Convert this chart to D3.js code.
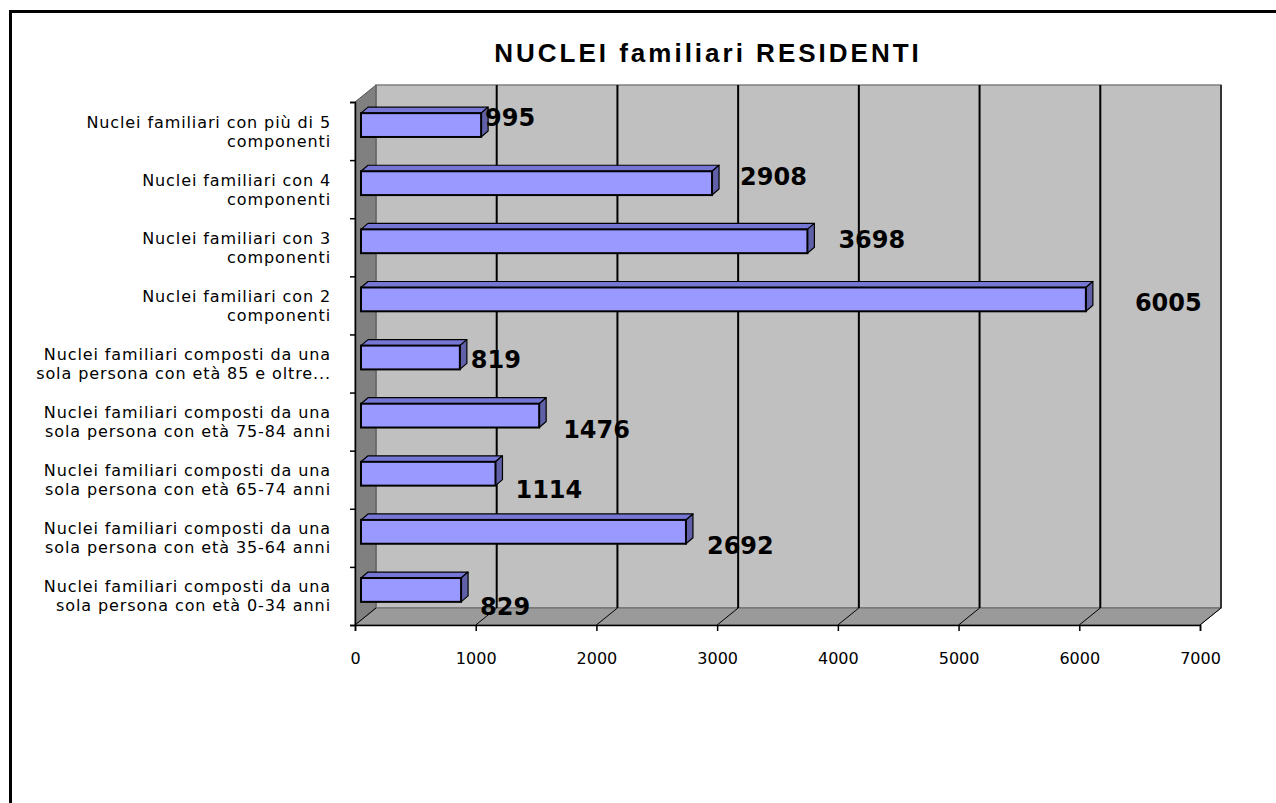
<!DOCTYPE html>
<html lang="it">
<head>
    <meta charset="utf-8">
    <title>NUCLEI familiari RESIDENTI</title>
    <script src="https://d3js.org/d3.v7.min.js"></script>
    <style>
    body{ margin: 0; background: #fff; }
    svg{ display: block; }
    </style>
</head>
<body>
<script>
    // data (top to bottom)
    const categories = [
        "Nuclei familiari con più di 5\ncomponenti",
        "Nuclei familiari con 4\ncomponenti",
        "Nuclei familiari con 3\ncomponenti",
        "Nuclei familiari con 2\ncomponenti",
        "Nuclei familiari composti da una\nsola persona con età 85 e oltre...",
        "Nuclei familiari composti da una\nsola persona con età 75-84 anni",
        "Nuclei familiari composti da una\nsola persona con età 65-74 anni",
        "Nuclei familiari composti da una\nsola persona con età 35-64 anni",
        "Nuclei familiari composti da una\nsola persona con età 0-34 anni"
    ];
    const values = [995, 2908, 3698, 6005, 819, 1476, 1114, 2692, 829];
    const xTicks = [0, 1000, 2000, 3000, 4000, 5000, 6000, 7000];
    const title = "NUCLEI familiari RESIDENTI";

    const W = 1276, H = 803;
    const depth = {dx: 21, dy: 17};      // back wall offset
    const barOff = {dx: 6, dy: 6};       // bars sit a bit inside the depth
    const barDepth = {dx: 7, dy: 6};
    // excel places the value labels a little loosely, these follow the picture
    const labelNudge = [[4,-7],[28,-6],[31,-1],[49,4],[11,2],[24,14],[20,16],[21,14],[19,17]];

    let svg = d3.select("body").append("svg")
        .attr("width", W)
        .attr("height", H);

    // frame (top and left only)
    svg.append("path")
        .attr("d", "M10.5," + H + "V11.5H" + W)
        .attr("fill", "none")
        .attr("stroke", "#000")
        .attr("stroke-width", 3);

    svg.append("text")
        .attr("x", 708)
        .attr("y", 62)
        .attr("text-anchor", "middle")
        .attr("font-family", "Liberation Sans, Arial, sans-serif")
        .attr("font-weight", "bold")
        .attr("font-size", "26px")
        .attr("letter-spacing", "3px")
        .text(title);

    let xScale = d3.scaleLinear()
        .domain([0, 7000])
        .range([355, 1200]);

    let yScale = d3.scaleBand()
        .domain(categories)
        .range([102, 625])
        .paddingInner(0.59)
        .paddingOuter(0.295);

    // linear helper for the category tick marks between bands
    let yEdge = d3.scaleLinear()
        .domain([0, categories.length])
        .range([625, 102]);

    const x0 = xScale(0), x1 = xScale(7000);
    const yTop = 102, yBot = 625;

    // walls and floor
    svg.append("rect")
        .attr("x", x0 + depth.dx)
        .attr("y", yTop - depth.dy)
        .attr("width", x1 - x0)
        .attr("height", yBot - yTop)
        .attr("fill", "#c0c0c0")
        .attr("stroke", "#808080")
        .attr("stroke-width", 1.5);

    svg.append("polygon")
        .attr("points", [[x0, yTop], [x0 + depth.dx, yTop - depth.dy], [x0 + depth.dx, yBot - depth.dy], [x0, yBot]].join(" "))
        .attr("fill", "#808080")
        .attr("stroke", "#555")
        .attr("stroke-width", 1);

    svg.append("polygon")
        .attr("points", [[x0, yBot], [x0 + depth.dx, yBot - depth.dy], [x1 + depth.dx, yBot - depth.dy], [x1, yBot]].join(" "))
        .attr("fill", "#9a9a9a")
        .attr("stroke", "#666")
        .attr("stroke-width", 1);

    // gridlines on back wall + floor
    svg.selectAll(".grid")
        .data(xTicks.slice(1))
        .join("line")
        .attr("class", "grid")
        .attr("x1", d => xScale(d) + depth.dx)
        .attr("x2", d => xScale(d) + depth.dx)
        .attr("y1", yTop - depth.dy)
        .attr("y2", yBot - depth.dy)
        .attr("stroke", d => d === 7000 ? "#333" : "#000")
        .attr("stroke-width", 2);

    svg.selectAll(".floorgrid")
        .data(xTicks)
        .join("line")
        .attr("class", "floorgrid")
        .attr("x1", d => xScale(d) + depth.dx)
        .attr("x2", d => xScale(d))
        .attr("y1", yBot - depth.dy)
        .attr("y2", yBot)
        .attr("stroke", "#000")
        .attr("stroke-width", 1);

    // bars
    let bars = svg.selectAll(".bar")
        .data(values)
        .join("g")
        .attr("class", "bar");

    bars.each(function (v, i) {
        let g = d3.select(this);
        let bx0 = xScale(0) + barOff.dx;
        let bx1 = xScale(v) + barOff.dx;
        let by0 = yScale(categories[i]) - barOff.dy;
        let by1 = by0 + yScale.bandwidth();
        g.append("polygon")
            .attr("points", [[bx0, by0], [bx0 + barDepth.dx, by0 - barDepth.dy], [bx1 + barDepth.dx, by0 - barDepth.dy], [bx1, by0]].join(" "))
            .attr("fill", "#7676d4")
            .attr("stroke", "#000")
            .attr("stroke-width", 1.2)
            .attr("stroke-linejoin", "round");
        g.append("polygon")
            .attr("points", [[bx1, by0], [bx1 + barDepth.dx, by0 - barDepth.dy], [bx1 + barDepth.dx, by1 - barDepth.dy], [bx1, by1]].join(" "))
            .attr("fill", "#6060a8")
            .attr("stroke", "#000")
            .attr("stroke-width", 1.2)
            .attr("stroke-linejoin", "round");
        g.append("rect")
            .attr("x", bx0)
            .attr("y", by0)
            .attr("width", bx1 - bx0)
            .attr("height", by1 - by0)
            .attr("fill", "#9999ff")
            .attr("stroke", "#000")
            .attr("stroke-width", 2);
    });

    // value labels
    svg.selectAll(".val")
        .data(values)
        .join("text")
        .attr("class", "val")
        .attr("x", (d, i) => xScale(d) + barOff.dx + labelNudge[i][0])
        .attr("y", (d, i) => yScale(categories[i]) - barOff.dy + yScale.bandwidth() / 2 + labelNudge[i][1])
        .attr("dominant-baseline", "central")
        .attr("font-family", "DejaVu Sans, sans-serif")
        .attr("font-weight", "bold")
        .attr("font-size", "24px")
        .text(d => d);

    // axes
    const yAxis = d3.axisLeft(yEdge)
        .tickValues(d3.range(categories.length + 1))
        .tickFormat("")
        .tickSizeOuter(0)
        .tickSize(5);
    svg.append("g")
        .attr("transform", "translate(" + x0 + ",0)")
        .call(yAxis)
        .call(g => g.selectAll("line, path").attr("stroke", "#000").attr("stroke-width", 1.5));

    const xAxis = d3.axisBottom(xScale)
        .tickValues(xTicks)
        .tickFormat(d3.format("d"))
        .tickSizeOuter(0)
        .tickSize(6)
        .tickPadding(22);
    svg.append("g")
        .attr("transform", "translate(0," + yBot + ")")
        .call(xAxis)
        .call(g => g.selectAll("line, path").attr("stroke", "#000").attr("stroke-width", 1.5))
        .call(g => g.selectAll("text")
            .attr("font-family", "DejaVu Sans, sans-serif")
            .attr("font-size", "16px")
            .attr("fill", "#000"));

    // category labels, two lines each
    let catLabels = svg.selectAll(".cat")
        .data(categories)
        .join("text")
        .attr("class", "cat")
        .attr("text-anchor", "end")
        .attr("font-family", "DejaVu Sans, sans-serif")
        .attr("font-size", "16px")
        .attr("letter-spacing", "0.9px")
        .attr("fill", "#000");

    catLabels.each(function (c) {
        let lines = c.split("\n");
        let cy = yScale(c) + yScale.bandwidth() / 2;
        d3.select(this).selectAll("tspan")
            .data(lines)
            .join("tspan")
            .attr("x", 331)
            .attr("y", (d, j) => cy - 9 + j * 19)
            .attr("dominant-baseline", "central")
            .text(d => d);
    });
</script>
</body>
</html>
